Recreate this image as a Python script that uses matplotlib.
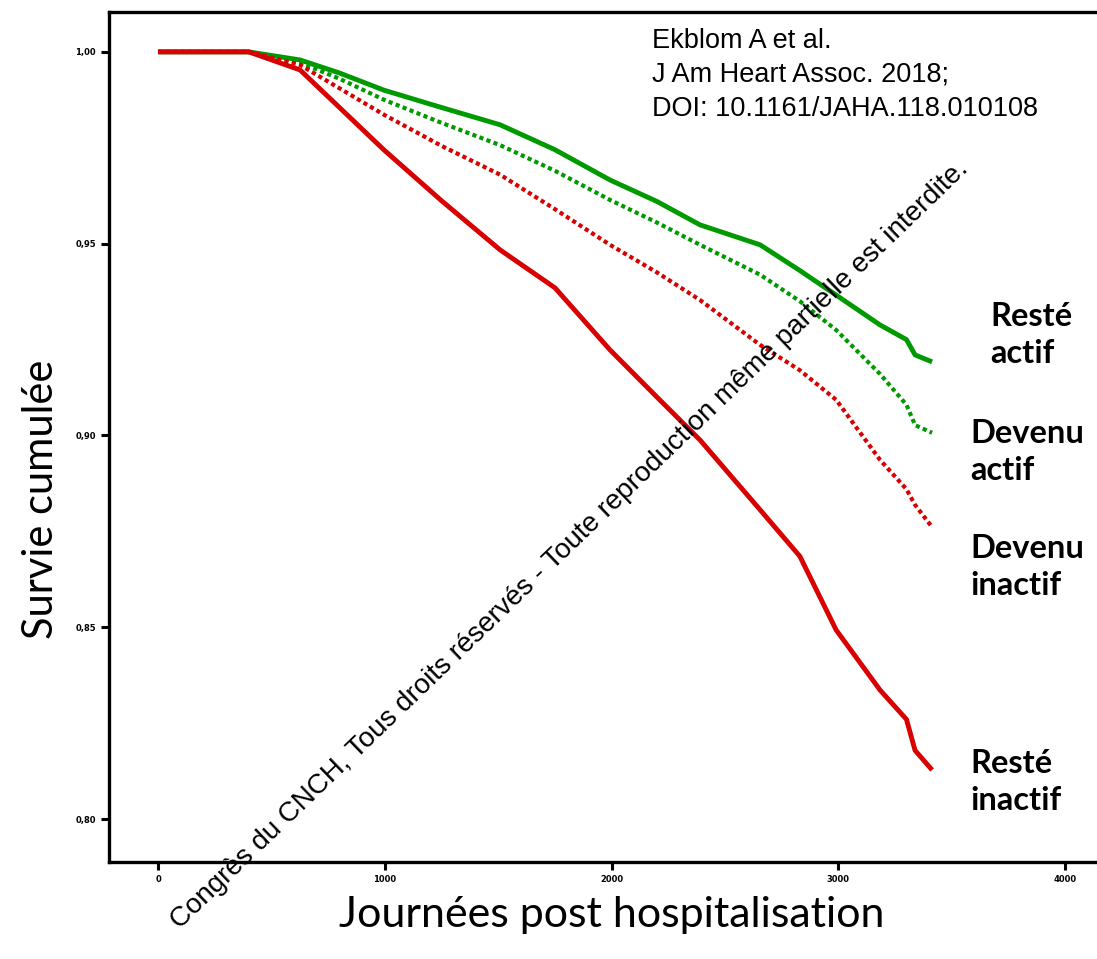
import matplotlib.pyplot as plt

# Survival curves (days, cumulative survival)
days = [0, 400, 626, 800, 997, 1250, 1508, 1750, 1993, 2200, 2390, 2655, 2830, 2990, 3184, 3300, 3338, 3413]
reste_actif = [1.0, 1.0, 0.9979, 0.9945, 0.9900, 0.9855, 0.9810, 0.9745, 0.9666, 0.9610, 0.9549, 0.9497, 0.9430, 0.9366, 0.9288, 0.9250, 0.9210, 0.9192]
devenu_actif = [1.0, 1.0, 0.9972, 0.9930, 0.9875, 0.9815, 0.9757, 0.9690, 0.9614, 0.9555, 0.9497, 0.9419, 0.9350, 0.9275, 0.9160, 0.9080, 0.9027, 0.9007]
devenu_inactif = [1.0, 1.0, 0.9966, 0.9905, 0.9836, 0.9755, 0.9680, 0.9590, 0.9497, 0.9425, 0.9353, 0.9236, 0.9170, 0.9093, 0.8936, 0.8860, 0.8819, 0.8761]
reste_inactif = [1.0, 1.0, 0.9953, 0.9855, 0.9744, 0.9612, 0.9484, 0.9385, 0.9223, 0.9100, 0.8988, 0.8806, 0.8685, 0.8493, 0.8336, 0.8260, 0.8179, 0.8128]

xticks = [0, 1000, 2000, 3000, 4000]
yticks = [0.80, 0.85, 0.90, 0.95, 1.00]
ytick_labels = ["0,80", "0,85", "0,90", "0,95", "1,00"]

green = "#009a00"
red = "#d80000"

fig = plt.figure(figsize=(10.97, 9.59), dpi=100)
ax = fig.add_axes([0.0994, 0.1011, 0.92, 0.8864])

ax.plot(days, reste_actif, color=green, lw=3.5, solid_capstyle="butt")
ax.plot(days, devenu_actif, color=green, lw=3.0, linestyle=(0, (1, 0.8)))
ax.plot(days, devenu_inactif, color=red, lw=3.0, linestyle=(0, (1, 0.8)))
ax.plot(days, reste_inactif, color=red, lw=3.5, solid_capstyle="butt")

ax.set_xlim(-216, 4234)
ax.set_ylim(0.7888, 1.0104)
ax.set_xticks(xticks)
ax.set_xticklabels([str(t) for t in xticks], fontsize=6, fontweight="bold")
ax.set_yticks(yticks)
ax.set_yticklabels(ytick_labels, fontsize=6, fontweight="bold")
ax.tick_params(width=2.2, length=6)
ax.spines["right"].set_visible(False)
for s in ["left", "bottom", "top"]:
    ax.spines[s].set_linewidth(2.4)

fig.text(0.037, 0.479, "Survie cumulée", rotation=90, fontsize=30,
         family="Lato", ha="center", va="center")
fig.text(0.558, 0.046, "Journées post hospitalisation", fontsize=31,
         family="Lato", ha="center", va="center")

# end-of-curve labels
lab = dict(fontsize=23.5, fontweight="bold", family="Lato", va="center", ha="left",
           linespacing=1.35)
fig.text(0.9025, 0.6507, "Resté\nactif", **lab)
fig.text(0.8842, 0.5287, "Devenu\nactif", **lab)
fig.text(0.8842, 0.4087, "Devenu\ninactif", **lab)
fig.text(0.8842, 0.1846, "Resté\ninactif", **lab)

fig.text(0.594, 0.971, "Ekblom A et al.\nJ Am Heart Assoc. 2018;\nDOI: 10.1161/JAHA.118.010108",
         fontsize=19.5, family="Liberation Sans", va="top", ha="left", linespacing=1.4)

fig.text(0.5196, 0.4317,
         "Congrès du CNCH, Tous droits réservés - Toute reproduction même partielle est interdite.",
         fontsize=20, family="Liberation Sans", rotation=43.9,
         ha="center", va="center", rotation_mode="anchor")

fig.savefig("out.png", dpi=100)
